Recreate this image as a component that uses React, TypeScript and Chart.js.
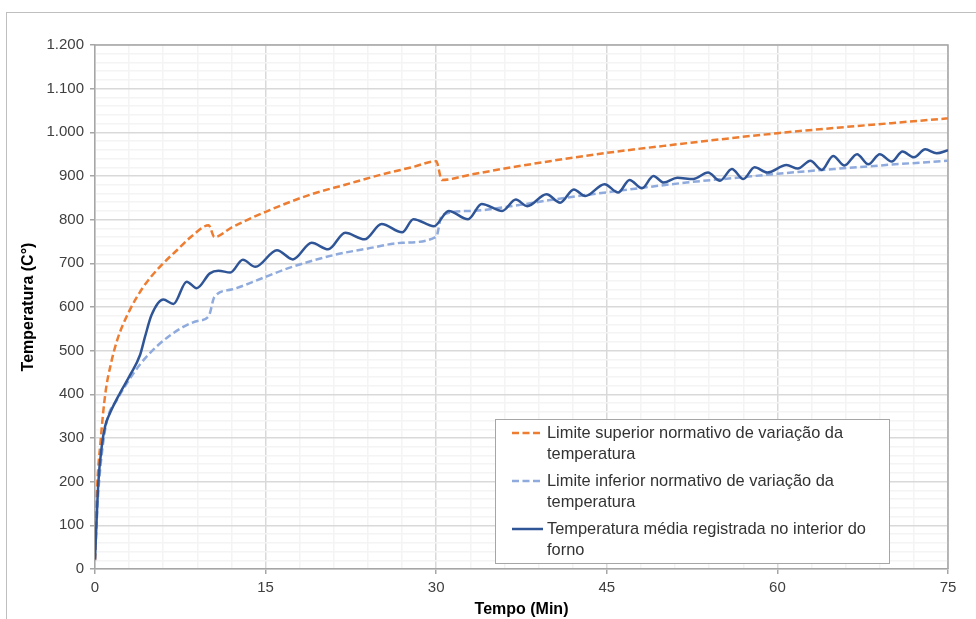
import React, { useEffect, useRef } from "react";
import { Chart, registerables } from "chart.js";

Chart.register(...registerables);

const FONT = "'Liberation Sans', Arial, Helvetica, sans-serif";

// Upper normative limit (orange dashed)
const upperTimes = [0, 0.15, 0.5, 0.9, 1.4, 2, 3, 4.25, 5.7, 7.2, 8.5, 10, 10.5, 12, 15, 19, 22, 25, 28, 30, 30.5, 33, 36, 40, 45, 50, 55, 60, 65, 70, 75];
const upperTemps = [20, 165, 295, 400, 470, 528, 590, 646, 692, 730, 762, 787, 760, 782, 818, 858, 880, 902, 921, 934, 891, 903, 917, 934, 953, 969, 984, 998, 1010, 1021, 1032];

// Lower normative limit (light blue dashed)
const lowerTimes = [0, 0.25, 0.5, 1, 2, 3, 4, 5.4, 6.5, 7.8, 9, 10, 10.5, 12, 15, 17, 21, 24, 27, 30, 30.5, 33, 37.4, 40, 46, 52, 56, 60, 65, 70, 75];
const lowerTemps = [20, 160, 240, 334, 390, 433, 470, 509, 533, 555, 568, 579, 623, 640, 669, 689, 719, 734, 747, 761, 810, 820, 834, 845, 866, 885, 895, 905, 916, 926, 935];

// Measured average furnace temperature (dark blue)
const measuredTimes = [0, 0.29, 0.59, 0.88, 1.32, 2.2, 3.08, 3.96, 4.4, 4.98, 6.0, 6.9, 8.06, 8.94, 10.1, 10.85, 11.9, 13.0, 14.1, 16.0, 17.4, 19.05, 20.5, 22.0, 23.7, 25.2, 27.0, 28.0, 29.8, 31.1, 32.8, 34.0, 35.8, 37.0, 38.0, 39.7, 40.9, 42.1, 43.1, 44.8, 46.0, 47.0, 48.1, 49.1, 50.0, 51.2, 52.6, 53.9, 54.95, 56.0, 57.0, 58.0, 59.1, 60.8, 61.8, 62.9, 63.9, 64.9, 65.9, 67.0, 68.0, 69.0, 70.05, 71.0, 72.0, 73.0, 74.0, 75];
const measuredTemps = [22, 196, 280, 326, 357, 403, 444, 490, 532, 582, 617, 607, 658, 643, 677, 683, 679, 708, 692, 730, 709, 747, 732, 770, 755, 790, 771, 801, 785, 820, 801, 836, 820, 846, 831, 858, 839, 869, 854, 881, 862, 891, 872, 900, 885, 896, 893, 908, 889, 916, 893, 920, 908, 925, 917, 935, 914, 946, 924, 950, 927, 950, 933, 956, 943, 961, 952, 959];

const seriesLegendLines = [
  ["Limite superior normativo de variação da", "temperatura"],
  ["Limite inferior normativo de variação da", "temperatura"],
  ["Temperatura média registrada no interior do", "forno"],
];

const xAxisTitle = "Tempo (Min)";
const yAxisTitle = "Temperatura (C°)";
const xMajorStep = 15;
const xMinorStep = 3;
const yMajorStep = 100;
const yMinorStep = 20;

const zip = (xs: number[], ys: number[]) => xs.map((x, i) => ({ x, y: ys[i] }));

const fmtThousands = (v: number) => {
  const s = String(Math.round(v));
  return s.replace(/\B(?=(\d{3})+(?!\d))/g, ".");
};

const COLORS = {
  upper: "#ED7D31",
  lower: "#8FAADC",
  measured: "#2F5597",
  major: "#d9d9d9",
  minor: "#f4f4f4",
  axis: "#a6a6a6",
  text: "#404040",
};

const framePlugin = {
  id: "frame",
  beforeDraw(chart: any) {
    const { ctx, width, height } = chart;
    ctx.save();
    ctx.fillStyle = "#ffffff";
    ctx.fillRect(0, 0, width, height);
    ctx.strokeStyle = "#bfbfbf";
    ctx.lineWidth = 1;
    ctx.strokeRect(6.5, 12.5, width + 10, height + 10);
    ctx.restore();
  },
  beforeDatasetsDraw(chart: any) {
    const { ctx, chartArea } = chart;
    ctx.save();
    ctx.strokeStyle = COLORS.axis;
    ctx.lineWidth = 1.5;
    ctx.beginPath();
    ctx.moveTo(chartArea.left, chartArea.top);
    ctx.lineTo(chartArea.right, chartArea.top);
    ctx.lineTo(chartArea.right, chartArea.bottom);
    ctx.stroke();
    ctx.restore();
  },
};

const legendPlugin = {
  id: "boxLegend",
  afterDraw(chart: any) {
    const { ctx, chartArea } = chart;
    const boxW = 394;
    const boxH = 144;
    const left = chartArea.right - 59 - boxW;
    const top = chartArea.bottom - 6 - boxH;
    ctx.save();
    ctx.fillStyle = "#ffffff";
    ctx.fillRect(left, top, boxW, boxH);
    ctx.strokeStyle = "#a6a6a6";
    ctx.lineWidth = 1;
    ctx.strokeRect(Math.round(left) + 0.5, Math.round(top) + 0.5, boxW, boxH);
    ctx.font = `16.4px ${FONT}`;
    ctx.textBaseline = "middle";
    ctx.textAlign = "left";
    [0, 1, 2].forEach((di, i) => {
      const ds = chart.data.datasets[di];
      const y0 = top + 14 + i * 48;
      ctx.strokeStyle = ds.borderColor;
      ctx.lineWidth = ds.borderWidth;
      ctx.setLineDash(ds.borderDash || []);
      ctx.beginPath();
      ctx.moveTo(left + 17, y0);
      ctx.lineTo(left + 48, y0);
      ctx.stroke();
      ctx.setLineDash([]);
      ctx.fillStyle = "#333333";
      seriesLegendLines[di].forEach((line, li) => {
        ctx.fillText(line, left + 52, y0 + li * 21.5);
      });
    });
    ctx.restore();
  },
};

export default function App() {
  const canvasRef = useRef<HTMLCanvasElement | null>(null);

  useEffect(() => {
    const canvas = canvasRef.current;
    if (!canvas) return;
    const chart = new Chart(canvas, {
      type: "line",
      data: {
        datasets: [
          {
            label: seriesLegendLines[0].join(" "),
            data: zip(upperTimes, upperTemps),
            borderColor: COLORS.upper,
            borderWidth: 2.5,
            borderDash: [7, 3.5],
            pointRadius: 0,
            cubicInterpolationMode: "monotone",
            fill: false,
            order: 1,
          },
          {
            label: seriesLegendLines[1].join(" "),
            data: zip(lowerTimes, lowerTemps),
            borderColor: COLORS.lower,
            borderWidth: 2.5,
            borderDash: [7, 3.5],
            pointRadius: 0,
            cubicInterpolationMode: "monotone",
            fill: false,
            order: 2,
          },
          {
            label: seriesLegendLines[2].join(" "),
            data: zip(measuredTimes, measuredTemps),
            borderColor: COLORS.measured,
            borderWidth: 2.5,
            pointRadius: 0,
            cubicInterpolationMode: "monotone",
            fill: false,
            order: 0,
          },
        ],
      },
      options: {
        responsive: false,
        animation: false,
        devicePixelRatio: 1,
        layout: { padding: { top: 45, right: 28, left: 0, bottom: 0 } },
        plugins: {
          legend: { display: false },
          tooltip: { enabled: false },
        },
        scales: {
          x: {
            type: "linear",
            min: 0,
            max: 75,
            afterFit: (scale: any) => {
              scale.height = 50;
            },
            ticks: {
              stepSize: xMinorStep,
              autoSkip: false,
              maxRotation: 0,
              padding: 5,
              color: COLORS.text,
              font: { family: FONT, size: 15 },
              callback: (v: any) => (Number(v) % xMajorStep === 0 ? String(v) : ""),
            },
            grid: {
              color: (c: any) => (c.tick && c.tick.value % xMajorStep === 0 ? COLORS.major : COLORS.minor),
              tickColor: (c: any) => (c.tick && c.tick.value % xMajorStep === 0 ? COLORS.axis : "rgba(0,0,0,0)"),
              lineWidth: 1.5,
              tickLength: 5,
            },
            border: { color: COLORS.axis, width: 1.5 },
            title: {
              display: true,
              text: xAxisTitle,
              color: "#000000",
              font: { family: FONT, size: 16, weight: "bold" },
              padding: { top: 0, bottom: 0 },
            },
          },
          y: {
            type: "linear",
            min: 0,
            max: 1200,
            afterFit: (scale: any) => {
              scale.width = 95;
            },
            ticks: {
              stepSize: yMinorStep,
              autoSkip: false,
              padding: 6,
              color: COLORS.text,
              font: { family: FONT, size: 15 },
              callback: (v: any) => (Number(v) % yMajorStep === 0 ? fmtThousands(Number(v)) : ""),
            },
            grid: {
              color: (c: any) => (c.tick && c.tick.value % yMajorStep === 0 ? COLORS.major : COLORS.minor),
              tickColor: (c: any) => (c.tick && c.tick.value % yMajorStep === 0 ? COLORS.axis : "rgba(0,0,0,0)"),
              lineWidth: 1.5,
              tickLength: 5,
            },
            border: { color: COLORS.axis, width: 1.5 },
            title: {
              display: true,
              text: yAxisTitle,
              color: "#000000",
              font: { family: FONT, size: 16, weight: "bold" },
              padding: { top: 19, bottom: 0 },
            },
          },
        },
      },
      plugins: [framePlugin, legendPlugin],
    } as any);
    return () => chart.destroy();
  }, []);

  return (
    <div style={{ position: "absolute", left: 0, top: 0, width: 976, height: 619, background: "#fff" }}>
      <canvas ref={canvasRef} width={976} height={619} style={{ display: "block", width: 976, height: 619 }} />
    </div>
  );
}
